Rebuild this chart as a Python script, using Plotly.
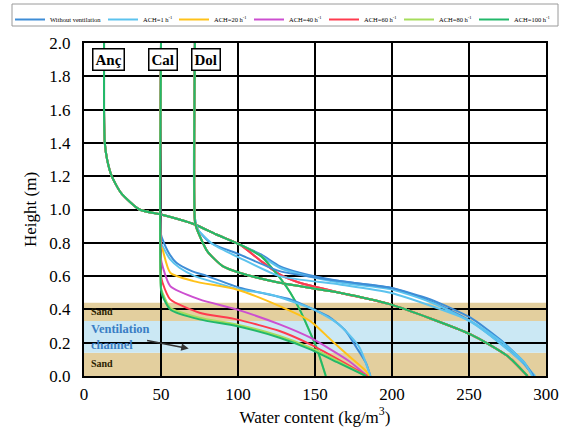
import plotly.graph_objects as go

# ---------------- data ----------------
scenarios = ["Without ventilation", "ACH=1 h<sup>-1</sup>", "ACH=20 h<sup>-1</sup>",
             "ACH=40 h<sup>-1</sup>", "ACH=60 h<sup>-1</sup>", "ACH=80 h<sup>-1</sup>",
             "ACH=100 h<sup>-1</sup>"]
colors = ["#3E8DD6", "#5CC3EE", "#FFC21A", "#CC4FD0", "#FF3B4E", "#A6DD5C", "#22B86A"]

# Anç
anc_top_x = [13, 13, 13.5, 15, 18, 24, 36, 50, 62, 72, 86, 101]
anc_top_y = [2.0, 1.6, 1.4, 1.3, 1.2, 1.1, 1.0, 0.97, 0.94, 0.91, 0.85, 0.79]
anc_a_x = [115, 127, 140, 166, 199, 225, 251, 270, 285, 292]
anc_a_y = [0.73, 0.66, 0.62, 0.57, 0.53, 0.45, 0.33, 0.20, 0.08, 0.0]
anc_a2_x = [115, 127, 141, 167, 200, 226, 252, 271, 286, 293]
anc_a2_y = [0.72, 0.65, 0.61, 0.56, 0.52, 0.44, 0.32, 0.19, 0.07, 0.0]
anc_c_x = [115, 127, 140, 166, 199, 251, 275, 288]
anc_c_y = [0.69, 0.61, 0.56, 0.50, 0.43, 0.25, 0.12, 0.0]
anc_b_x = [115, 121, 128, 134, 140, 145, 151, 157]
anc_b_y = [0.72, 0.66, 0.58, 0.50, 0.40, 0.30, 0.17, 0.0]

# Cal
cal_x0 = [50, 50, 51, 55, 60, 70, 80, 101, 134, 149, 160, 170, 177, 183, 186]
cal_y0 = [2.0, 0.85, 0.82, 0.74, 0.68, 0.63, 0.60, 0.53, 0.46, 0.40, 0.35, 0.27, 0.17, 0.08, 0.0]
cal_x1 = [50, 50, 51, 56, 62, 72, 82, 101, 121, 149, 164, 172, 179, 186]
cal_y1 = [2.0, 0.80, 0.78, 0.70, 0.65, 0.60, 0.57, 0.52, 0.49, 0.40, 0.32, 0.25, 0.17, 0.0]
cal_x20 = [50, 50, 51, 56, 71, 99, 127, 147, 160, 172, 183, 185]
cal_y20 = [2.0, 0.78, 0.76, 0.62, 0.57, 0.52, 0.42, 0.33, 0.22, 0.12, 0.03, 0.0]
cal_x40 = [50, 50, 51, 56, 75, 99, 127, 147, 160, 172, 184]
cal_y40 = [2.0, 0.70, 0.66, 0.54, 0.46, 0.40, 0.31, 0.23, 0.16, 0.09, 0.0]
cal_x60 = [50, 50, 51, 56, 75, 99, 127, 147, 165, 184]
cal_y60 = [2.0, 0.60, 0.56, 0.46, 0.38, 0.34, 0.27, 0.19, 0.10, 0.0]
cal_x80 = [50, 50, 51, 56, 75, 99, 127, 147, 165, 183]
cal_y80 = [2.0, 0.53, 0.50, 0.41, 0.35, 0.31, 0.24, 0.17, 0.09, 0.0]
cal_x100 = [50, 50, 51, 56, 75, 99, 127, 147, 165, 183]
cal_y100 = [2.0, 0.52, 0.48, 0.40, 0.34, 0.30, 0.23, 0.16, 0.08, 0.0]

# Dol
dol_x0 = [72, 72, 74, 82, 101, 127, 166, 199, 225, 251, 270, 285, 292]
dol_y0 = [2.0, 0.95, 0.88, 0.80, 0.73, 0.63, 0.57, 0.53, 0.46, 0.35, 0.22, 0.09, 0.0]
dol_x1 = [72, 72, 74, 84, 101, 127, 166, 199, 251, 272, 286, 291]
dol_y1 = [2.0, 0.95, 0.88, 0.79, 0.71, 0.60, 0.55, 0.50, 0.33, 0.20, 0.08, 0.0]
dol_xv = [72, 72, 73, 80, 90, 101, 127, 166, 199, 251, 275, 288]
dol_yv = [2.0, 0.93, 0.89, 0.75, 0.66, 0.62, 0.56, 0.50, 0.43, 0.25, 0.12, 0.0]

x_ticks = [0, 50, 100, 150, 200, 250, 300]
y_ticks = [0.0, 0.2, 0.4, 0.6, 0.8, 1.0, 1.2, 1.4, 1.6, 1.8, 2.0]

anc_curves = [
    (anc_top_x + anc_a_x, anc_top_y + anc_a_y),
    (anc_top_x + anc_a2_x, anc_top_y + anc_a2_y),
    (anc_top_x + anc_c_x, anc_top_y + anc_c_y),
    (anc_top_x + anc_c_x, anc_top_y + anc_c_y),
    (anc_top_x + anc_c_x, anc_top_y + anc_c_y),
    (anc_top_x + anc_b_x, anc_top_y + anc_b_y),
    (anc_top_x + anc_b_x, anc_top_y + anc_b_y),
]
cal_curves = [(cal_x0, cal_y0), (cal_x1, cal_y1), (cal_x20, cal_y20), (cal_x40, cal_y40),
              (cal_x60, cal_y60), (cal_x80, cal_y80), (cal_x100, cal_y100)]
dol_curves = [(dol_x0, dol_y0), (dol_x1, dol_y1), (dol_xv, dol_yv), (dol_xv, dol_yv),
              (dol_xv, dol_yv), (dol_xv, dol_yv), (dol_xv, dol_yv)]

legend_ids = ["legend", "legend2", "legend3", "legend4", "legend5", "legend6", "legend7"]
legend_left_px = [10, 103, 174, 249, 324, 399, 474]   # layout positions of legend entries

fig = go.Figure()
for mi, curves in enumerate([anc_curves, cal_curves, dol_curves]):
    for i, (xs, ys) in enumerate(curves):
        fig.add_trace(go.Scatter(
            x=xs, y=ys, mode="lines", name=scenarios[i], legendgroup=scenarios[i],
            legend=legend_ids[i], showlegend=(mi == 0),
            line=dict(color=colors[i], width=2, shape="spline", smoothing=0.6)))

# bands
band_sand = "#E3CF9E"
band_blue = "#CBE8F4"
fig.add_shape(type="rect", x0=0, x1=300, y0=0, y1=0.14, xref="x", yref="y",
              fillcolor=band_sand, line_width=0, layer="below")
fig.add_shape(type="rect", x0=0, x1=300, y0=0.14, y1=0.33, xref="x", yref="y",
              fillcolor=band_blue, line_width=0, layer="below")
fig.add_shape(type="rect", x0=0, x1=300, y0=0.33, y1=0.44, xref="x", yref="y",
              fillcolor=band_sand, line_width=0, layer="below")
# legend frame
fig.add_shape(type="rect", xref="paper", yref="paper", x0=(12 - 84) / 462, x1=(558 - 84) / 462,
              y0=1 + (43 - 26) / 333, y1=1 + (43 - 4) / 333,
              line=dict(color="#9a9a9a", width=1), fillcolor="rgba(0,0,0,0)", layer="above")

serif = "Liberation Serif"
ann = []
for txt, xx in [("Anç", 15.8), ("Cal", 51), ("Dol", 79)]:
    ann.append(dict(x=xx, y=1.9, xref="x", yref="y", text="<b>%s</b>" % txt, showarrow=False,
                    font=dict(family=serif, size=15, color="black"), bgcolor="white",
                    bordercolor="black", borderwidth=1.5, borderpad=2))
ann.append(dict(x=3, y=0.385, xref="x", yref="y", text="<b>Sand</b>", showarrow=False, xanchor="left",
                font=dict(family=serif, size=10, color="#2b2200")))
ann.append(dict(x=3, y=0.075, xref="x", yref="y", text="<b>Sand</b>", showarrow=False, xanchor="left",
                font=dict(family=serif, size=10, color="#2b2200")))
ann.append(dict(x=3, y=0.285, xref="x", yref="y", text="<b>Ventilation</b>", showarrow=False, xanchor="left",
                font=dict(family=serif, size=12.5, color="#3A7EC4")))
ann.append(dict(x=3, y=0.185, xref="x", yref="y", text="<b>channel</b>", showarrow=False, xanchor="left",
                font=dict(family=serif, size=12.5, color="#3A7EC4")))
ann.append(dict(x=68, y=0.165, xref="x", yref="y", ax=40, ay=0.215, axref="x", ayref="y",
                showarrow=True, arrowhead=2, arrowsize=1, arrowwidth=1.5, arrowcolor="#333333", text=""))

legend_layouts = {}
for lid, lx in zip(legend_ids, legend_left_px):
    legend_layouts[lid] = dict(orientation="h", x=lx / 570, xanchor="left", y=1 - 5 / 438, yanchor="top",
                               xref="container", yref="container",
                               font=dict(family=serif, size=6.5, color="black"),
                               borderwidth=0, bgcolor="rgba(0,0,0,0)", itemwidth=30)

fig.update_layout(
    width=570, height=438,
    margin=dict(l=84, r=24, t=43, b=62, autoexpand=False),
    paper_bgcolor="white", plot_bgcolor="white",
    font=dict(family=serif, color="black"),
    annotations=ann,
    **legend_layouts,
)
fig.update_xaxes(range=[0, 300], tickvals=x_ticks, showgrid=True, gridcolor="black", gridwidth=1.5,
                 showline=True, linecolor="black", linewidth=2, mirror=True, zeroline=False,
                 tickfont=dict(family=serif, size=17), ticklabelstandoff=2,
                 title=dict(text="Water content (kg/m<sup>3</sup>)", font=dict(family=serif, size=17), standoff=1))
fig.update_yaxes(range=[0, 2.0], tickvals=y_ticks, tickformat=".1f", showgrid=True, gridcolor="black",
                 gridwidth=1.5, showline=True, linecolor="black", linewidth=2, mirror=True, zeroline=False,
                 tickfont=dict(family=serif, size=17), ticklabelstandoff=8,
                 title=dict(text="Height (m)", font=dict(family=serif, size=17), standoff=8))

fig.write_html("out.html")
